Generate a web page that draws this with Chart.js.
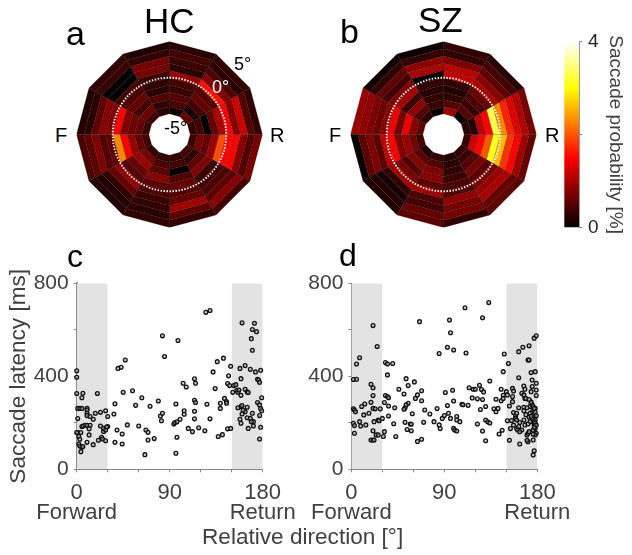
<!DOCTYPE html>
<html lang="en">
<head>
    <meta charset="UTF-8">
    <title>Saccade probability and latency</title>
    <script src="https://cdn.jsdelivr.net/npm/chart.js"></script>
    <style>
        body {
            margin: 0;
            background: white;
            font-family: "Liberation Sans", Arial, sans-serif;
        }

        #page {
            position: relative;
            width: 632px;
            height: 555px;
            overflow: hidden;
        }

        canvas {
            position: absolute;
        }

        .txt {
            position: absolute;
            white-space: nowrap;
            color: black;
        }
    </style>
</head>
<body>

<div id="page">
    <canvas id="polarHC" width="193" height="193" style="left:73px;top:38px"></canvas>
    <canvas id="polarSZ" width="193" height="193" style="left:347px;top:38px"></canvas>
    <canvas id="colorbar" width="77" height="225" style="left:555px;top:20px"></canvas>
    <canvas id="scatterC" width="310" height="295" style="left:0;top:260px"></canvas>
    <canvas id="scatterD" width="332" height="295" style="left:300px;top:260px"></canvas>

    <div class="txt" style="left:66px;top:14px;font-size:34px">a</div>
    <div class="txt" style="left:144px;top:1px;font-size:35px">HC</div>
    <div class="txt" style="left:340px;top:12px;font-size:34px">b</div>
    <div class="txt" style="left:418px;top:0;font-size:35px">SZ</div>
    <div class="txt" style="left:67px;top:238px;font-size:32px">c</div>
    <div class="txt" style="left:339px;top:237px;font-size:32px">d</div>

    <div class="txt" style="left:55px;top:124px;font-size:20px">F</div>
    <div class="txt" style="left:270px;top:124px;font-size:20px">R</div>
    <div class="txt" style="left:329px;top:124px;font-size:20px">F</div>
    <div class="txt" style="left:545px;top:124px;font-size:20px">R</div>

    <div class="txt" style="left:234px;top:54px;font-size:18px">5°</div>
    <div class="txt" style="left:212px;top:77px;font-size:18px;color:white">0°</div>
    <div class="txt" style="left:164px;top:118px;font-size:18px">-5°</div>

    <div class="txt" style="left:202px;top:524px;font-size:22.6px;color:#404040">Relative direction [°]</div>
</div>

<script>
    // one row per sector, clockwise from the top; values run from -5° (inner ring) to 5° (outer ring)
    const hcProbability = [
        [0.05, 0.45, 0.5, 0.35, 0.4, 0.9, 0.25, 0.35, 0.4, 0.25],
        [0.6, 0.15, 0.4, 0.6, 0.5, 1.6, 0.75, 0.45, 0.25, 0.3],
        [0.3, 0.4, 0.03, 0.6, 1.0, 1.45, 0.8, 1.2, 0.5, 0.3],
        [0.35, 0.7, 0.6, 0.9, 1.95, 1.5, 1.5, 0.8, 0.5, 0.7],
        [0.4, 0.3, 0.55, 0.75, 0.35, 0.4, 0.45, 0.55, 0.8, 0.4],
        [0.3, 0.4, 0.05, 0.5, 0.6, 0.5, 0.6, 0.95, 0.55, 0.3],
        [0.3, 0.45, 0.55, 0.8, 0.55, 0.45, 0.35, 0.3, 0.25, 0.3],
        [0.3, 0.7, 0.9, 0.6, 0.5, 0.85, 0.6, 0.3, 0.2, 0.2],
        [0.4, 0.6, 0.9, 1.45, 2.3, 0.55, 0.5, 0.75, 0.55, 0.45],
        [0.35, 0.6, 0.65, 0.75, 1.5, 0.75, 0.8, 0.55, 0.25, 0.2],
        [0.4, 0.65, 0.4, 0.6, 0.45, 0.4, 0.03, 0.05, 0.35, 0.3],
        [0.25, 0.3, 0.5, 0.25, 0.3, 0.35, 0.7, 0.7, 0.3, 0.2]
    ];
    const szProbability = [
        [0.95, 0.5, 0.3, 0.2, 0.3, 1.15, 1.1, 0.75, 0.3, 0.3],
        [0.05, 0.5, 0.35, 0.45, 0.6, 1.0, 0.8, 0.55, 0.4, 0.25],
        [0.25, 0.2, 1.1, 1.5, 3.3, 2.3, 1.7, 1.3, 1.05, 0.7],
        [0.35, 1.2, 1.5, 2.0, 3.1, 2.6, 1.8, 1.5, 0.95, 0.6],
        [0.3, 0.35, 0.5, 0.7, 0.55, 0.7, 0.9, 1.0, 0.6, 0.55],
        [0.2, 0.25, 0.3, 0.35, 0.45, 0.5, 0.85, 0.7, 0.7, 0.3],
        [0.3, 0.5, 0.75, 0.8, 0.55, 0.95, 0.45, 0.4, 0.6, 0.55],
        [0.2, 0.55, 0.75, 0.5, 0.7, 0.95, 0.3, 0.15, 0.2, 0.2],
        [0.4, 0.7, 0.9, 0.75, 1.5, 1.15, 0.55, 0.75, 0.55, 0.05],
        [0.55, 0.8, 1.4, 0.7, 1.4, 0.8, 0.65, 0.75, 0.85, 0.9],
        [0.25, 0.5, 0.85, 0.35, 0.95, 0.75, 0.4, 0.55, 0.3, 0.1],
        [0.05, 0.35, 0.3, 0.25, 0.3, 0.05, 1.0, 0.85, 0.3, 0.1]
    ];
    const ringEdges = [-5, -4, -3, -2, -1, 0, 1, 2, 3, 4, 5];
    const sectorEdges = [0, 30, 60, 90, 120, 150, 180, 210, 240, 270, 300, 330, 360];
    const probTicks = [0, 2, 4];

    // [direction, latency]
    const latencyC = [
        [0,424],[0,396],[0,326],[1,262],[3,262],[1,218],[5,308],[6,327],[5,262],[1,158],[0,158],[2,141],[3,129],
        [2,109],[3,100],[5,95],[4,76],[6,98],[4,158],[5,184],[6,186],[8,189],[10,262],[10,255],[10,241],[10,231],
        [13,227],[10,189],[13,189],[12,174],[12,148],[10,116],[16,106],[16,215],[18,241],[20,326],[23,245],[28,252],
        [23,186],[26,176],[26,163],[28,169],[30,227],[30,184],[29,182],[21,125],[24,138],[25,130],[28,123],[37,282],
        [36,238],[39,169],[37,116],[44,109],[44,152],[40,434],[43,439],[47,470],[45,331],[49,191],[54,338],[57,275],
        [60,186],[63,308],[66,63],[67,169],[69,159],[69,126],[75,132],[71,271],[79,294],[81,229],[83,241],[82,209],
        [83,574],[85,485],[94,195],[95,201],[97,204],[96,281],[100,215],[96,69],[97,138],[98,554],[104,252],[104,237],
        [103,370],[106,354],[108,176],[112,162],[114,389],[115,370],[114,297],[115,287],[114,250],[114,217],[118,179],
        [124,166],[126,280],[129,217],[125,675],[129,683],[132,419],[134,347],[136,463],[137,141],[139,262],[139,284],
        [141,149],[142,478],[143,305],[145,291],[145,284],[146,369],[146,174],[149,176],[147,402],[149,443],[148,360],
        [151,331],[152,360],[154,364],[155,340],[156,331],[157,341],[158,434],[159,318],[156,265],[159,270],[160,274],
        [163,446],[163,344],[165,267],[165,333],[166,330],[160,630],[159,390],[163,248],[161,254],[160,238],[159,198],
        [158,215],[166,176],[165,222],[168,219],[170,241],[172,628],[170,601],[174,592],[169,562],[170,512],[168,430],
        [173,419],[178,426],[175,387],[176,384],[177,374],[175,287],[177,277],[178,262],[179,252],[179,308],[177,231],
        [171,205],[169,205],[171,186],[178,181],[177,130]
    ];
    const latencyD = [
        [2,386],[5,387],[2,260],[3,255],[4,248],[2,198],[3,188],[3,155],[8,480],[5,453],[8,205],[9,186],[12,234],
        [13,281],[10,270],[14,191],[17,241],[19,126],[19,288],[19,366],[21,351],[21,317],[21,618],[25,528],[21,262],
        [23,260],[22,205],[21,166],[21,126],[22,126],[24,148],[26,148],[26,212],[27,209],[28,260],[30,219],[32,287],
        [33,459],[35,453],[40,455],[35,406],[33,317],[35,313],[36,308],[36,272],[36,229],[32,162],[31,141],[42,265],
        [43,141],[41,196],[46,344],[51,324],[53,390],[55,360],[61,376],[55,284],[53,277],[52,265],[51,258],[52,202],
        [54,171],[58,166],[57,195],[58,194],[59,239],[64,120],[68,129],[66,635],[62,305],[64,320],[68,295],[68,338],
        [70,202],[71,255],[76,238],[80,205],[83,261],[85,191],[86,175],[88,219],[90,231],[85,498],[93,525],[95,642],
        [96,587],[99,513],[111,500],[110,695],[91,330],[93,274],[94,241],[96,219],[98,340],[99,294],[102,227],[102,212],
        [99,176],[100,169],[102,165],[105,205],[107,280],[108,278],[113,275],[114,351],[118,344],[117,307],[122,303],
        [120,344],[124,361],[126,343],[128,333],[127,300],[125,257],[130,270],[122,195],[127,165],[130,123],[133,717],
        [127,652],[134,380],[130,212],[132,204],[134,199],[138,260],[140,248],[142,262],[140,301],[145,295],[143,152],
        [146,168],[145,344],[147,420],[148,496],[150,334],[151,320],[151,209],[152,455],[153,272],[153,125],[156,348],
        [156,313],[156,291],[157,337],[147,318],[147,305],[157,244],[159,229],[160,241],[159,219],[160,212],[160,176],
        [161,169],[162,265],[162,394],[162,506],[163,109],[165,327],[166,525],[167,320],[167,358],[168,305],[168,344],
        [169,304],[167,267],[167,252],[167,212],[168,191],[163,201],[162,184],[165,169],[163,162],[170,148],[171,155],
        [172,162],[171,119],[170,125],[172,531],[171,470],[172,470],[173,270],[174,416],[175,384],[175,356],[174,334],
        [176,62],[177,80],[176,126],[177,564],[179,574],[178,420],[179,370],[179,341],[179,317],[174,284],[175,277],
        [176,270],[178,262],[175,248],[176,241],[177,227],[178,212],[175,219],[176,205],[177,191],[178,176],[176,169],
        [179,155],[178,148],[173,241],[173,205],[176,151],[174,290],[177,262],[178,245],[179,230],[177,205],[178,198],
        [179,190],[177,180],[172,300],[170,265],[172,225],[171,195],[169,235],[174,228],[155,210],[157,190],[154,175]
    ];
    const forwardBand = [0, 30];
    const returnBand = [150, 180];

    // matlab "hot" between 0 and 4 %
    function hotColor(value) {
        const t = Math.min(value / 4, 1);
        const r = Math.min(t / 0.375, 1);
        const g = Math.max(Math.min((t - 0.375) / 0.375, 1), 0);
        const b = Math.max((t - 0.75) / 0.25, 0);
        return `rgb(${Math.round(r * 255)},${Math.round(g * 255)},${Math.round(b * 255)})`;
    }

    // the hole in the middle is 2.85° wide
    const holeOffset = 7.85;

    function toXY(ecc, angle) {
        const r = ecc + holeOffset;
        const a = angle * Math.PI / 180;
        return { x: r * Math.sin(a), y: r * Math.cos(a) };
    }

    function drawPolar(id, values) {
        const datasets = [];
        values.forEach((row, s) => {
            row.forEach((v, i) => {
                const a0 = sectorEdges[s], a1 = sectorEdges[s + 1];
                const e0 = ringEdges[i], e1 = ringEdges[i + 1];
                datasets.push({
                    data: [toXY(e0, a0), toXY(e0, a1), toXY(e1, a1), toXY(e1, a0), toXY(e0, a0)],
                    showLine: true,
                    fill: 'shape',
                    backgroundColor: hotColor(v),
                    borderColor: 'rgba(0,0,0,0.3)',
                    borderWidth: 0.6,
                    pointRadius: 0,
                    tension: 0,
                    order: 2
                });
            });
        });

        // dotted circle at 0°
        const circle = [];
        for (let a = 0; a <= 360; a += 3) {
            circle.push(toXY(0, a));
        }
        datasets.push({
            data: circle,
            showLine: true,
            fill: false,
            borderColor: 'white',
            borderWidth: 1.8,
            borderDash: [1.5, 1.5],
            pointRadius: 0,
            tension: 0,
            order: 1
        });

        const lim = ringEdges[ringEdges.length - 1] + holeOffset;
        new Chart(document.getElementById(id), {
            type: 'scatter',
            data: { datasets: datasets },
            options: {
                responsive: false,
                animation: false,
                layout: { padding: 3.5 },
                plugins: { legend: { display: false }, tooltip: { enabled: false } },
                scales: {
                    x: { display: false, min: -lim, max: lim },
                    y: { display: false, min: -lim, max: lim }
                }
            }
        });
    }

    function bandDataset(band) {
        return {
            type: 'line',
            data: [{ x: band[0], y: 800 }, { x: band[1], y: 800 }],
            fill: 'origin',
            backgroundColor: '#e3e3e3',
            borderWidth: 0,
            pointRadius: 0,
            order: 5
        };
    }

    function drawScatter(id, points, opts) {
        new Chart(document.getElementById(id), {
            type: 'scatter',
            data: {
                datasets: [
                    bandDataset(forwardBand),
                    bandDataset(returnBand),
                    {
                        data: points.map(p => ({ x: p[0], y: p[1] })),
                        pointStyle: 'circle',
                        pointRadius: 1.9,
                        borderWidth: 1.3,
                        borderColor: '#111',
                        backgroundColor: 'rgba(170,170,170,0.6)',
                        clip: false,
                        order: 1
                    }
                ]
            },
            options: {
                responsive: false,
                animation: false,
                layout: { padding: { top: 23.3, right: opts.right } },
                plugins: { legend: { display: false }, tooltip: { enabled: false } },
                scales: {
                    x: {
                        min: 0,
                        max: 180,
                        afterFit: s => { s.height = 85.7; },
                        grid: { drawOnChartArea: false, tickLength: 3, color: '#888' },
                        border: { color: '#888' },
                        ticks: {
                            stepSize: 30,
                            autoSkip: false,
                            maxRotation: 0,
                            padding: 11,
                            color: '#404040',
                            font: { family: 'Liberation Sans', size: 22, lineHeight: 0.91 },
                            callback: v => {
                                if (v === 0) return ['0', 'Forward'];
                                if (v === 90) return '90';
                                if (v === 180) return ['180', 'Return'];
                                return '';
                            }
                        }
                    },
                    y: {
                        min: 0,
                        max: 800,
                        afterFit: s => { s.width = opts.left; },
                        grid: { drawOnChartArea: false, tickLength: 3, color: '#888' },
                        border: { color: '#888', width: opts.axisWidth },
                        title: {
                            display: opts.title,
                            text: 'Saccade latency [ms]',
                            color: '#404040',
                            padding: { top: 5, bottom: 0 },
                            font: { family: 'Liberation Sans', size: 22.6 }
                        },
                        ticks: {
                            stepSize: 200,
                            padding: 5,
                            color: '#404040',
                            font: { family: 'Liberation Sans', size: 21 },
                            callback: v => (v % 400 === 0 ? String(v) : '')
                        }
                    }
                }
            }
        });
    }

    drawPolar('polarHC', hcProbability);
    drawPolar('polarSZ', szProbability);

    new Chart(document.getElementById('colorbar'), {
        type: 'bar',
        data: {
            labels: [''],
            datasets: [{
                data: [[probTicks[0], probTicks[2]]],
                barPercentage: 1,
                categoryPercentage: 1,
                backgroundColor: ctx => {
                    const area = ctx.chart.chartArea;
                    if (!area) return 'black';
                    const g = ctx.chart.ctx.createLinearGradient(0, area.bottom, 0, area.top);
                    [0, 0.375, 0.75, 1].forEach(t => g.addColorStop(t, hotColor(t * 4)));
                    return g;
                }
            }]
        },
        options: {
            responsive: false,
            animation: false,
            layout: { padding: { left: 9.3, top: 21.7, bottom: 17.3 } },
            plugins: { legend: { display: false }, tooltip: { enabled: false } },
            scales: {
                x: { display: false },
                y: {
                    position: 'right',
                    min: probTicks[0],
                    max: probTicks[2],
                    afterFit: s => { s.width = 53; },
                    grid: { drawOnChartArea: false, tickLength: 3, color: '#777' },
                    border: { color: '#999' },
                    title: {
                        display: true,
                        text: 'Saccade probability [%]',
                        color: '#404040',
                        padding: { top: 5, bottom: 0 },
                        font: { family: 'Liberation Sans', size: 19 }
                    },
                    ticks: {
                        stepSize: 2,
                        padding: 6,
                        color: '#222',
                        font: { family: 'Liberation Sans', size: 19 },
                        callback: v => (v === 2 ? '' : String(v))
                    }
                }
            }
        }
    });

    drawScatter('scatterC', latencyC, { left: 76.7, right: 47.3, axisWidth: 2, title: true });
    drawScatter('scatterD', latencyD, { left: 50, right: 94.7, axisWidth: 1, title: false });
</script>

</body>
</html>
